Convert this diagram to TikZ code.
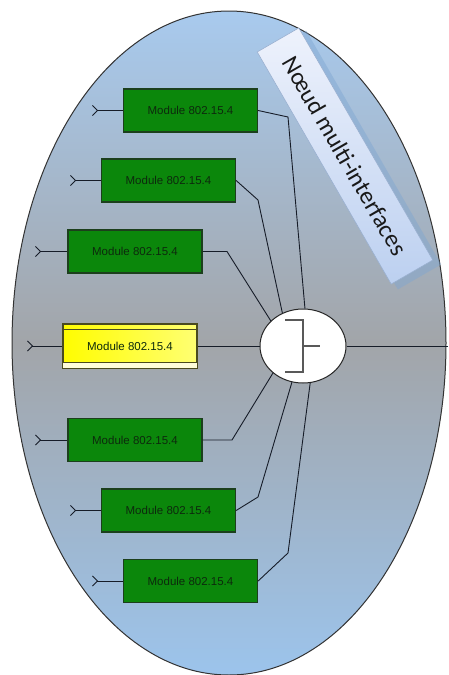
\documentclass[tikz,border=0pt]{standalone}
\usepackage{fontspec}
\setmainfont{Liberation Sans}
\newfontfamily\bannerfont{Carlito}
\usetikzlibrary{shapes.geometric,arrows.meta,calc}
\definecolor{ellTop}{HTML}{A8CAEE}
\definecolor{ellMid}{HTML}{A2A5A9}
\definecolor{ellBot}{HTML}{9CC4EC}
\definecolor{modGreen}{HTML}{0B870B}
\definecolor{modEdge}{HTML}{1C3F1C}
\definecolor{modText}{HTML}{0D2A0D}
\definecolor{wire}{HTML}{161C28}
\definecolor{banTop}{HTML}{EEF2FC}
\definecolor{banBot}{HTML}{BCD0F0}
\definecolor{banEdge}{HTML}{9AB0D0}
\definecolor{banShadow}{HTML}{7EA6D2}
\definecolor{yelEdge}{HTML}{4A4A1E}
\tikzset{
  modbox/.style={draw=modEdge, line width=1.3pt, fill=modGreen, minimum width=134pt,
    minimum height=43pt, inner sep=0pt, text=modText, font=\fontsize{11.5}{13}\selectfont},
  wireline/.style={draw=wire, line width=0.9pt},
  feed/.style={draw=wire, line width=0.9pt, {Straight Barb[reversed,length=5pt,width=10pt]}-},
  symb/.style={draw=black!65, line width=1.6pt}
}
\begin{document}
\begin{tikzpicture}[x=1pt,y=-1pt]
\useasboundingbox (0,0) rectangle (448,675);
\fill[white] (0,0) rectangle (448,675);
% enclosing ellipse
\path[draw=black!80, line width=1pt, top color=ellTop, bottom color=ellBot, middle color=ellMid]
  (229,343) ellipse [x radius=217pt, y radius=332pt];
% banner
\fill[banShadow, opacity=0.45, rotate around={-60:(352,160)}] (352,160) +(-135,-25) rectangle +(135,25);
\node[rotate=-60, draw=banEdge, line width=0.6pt, top color=banTop, bottom color=banBot,
  minimum width=268pt, minimum height=48pt, inner sep=0pt, font=\bannerfont\fontsize{24.5}{28}\selectfont,
  text=black!90] (banner) at (345,156) {Nœud multi-interfaces};
% modules
\node[modbox] (m1) at (190.5,110.5) {Module 802.15.4};
\node[modbox] (m2) at (168.5,180.5) {Module 802.15.4};
\node[modbox] (m3) at (135,251.5) {Module 802.15.4};
\node[modbox, draw=yelEdge, left color=yellow!98!orange, right color=yellow!55!white,
  minimum height=44pt] (m4) at (130,346) {Module 802.15.4};
\draw[yelEdge, line width=1.3pt] (m4.north west) ++(0,6) -- ++(134,0);
\fill[white!85!yellow] ($(m4.south west)+(0.7,-5.3)$) rectangle ($(m4.south east)+(-0.7,-0.7)$);
\draw[yelEdge, line width=1.3pt] (m4.south west) ++(0,-6) -- ++(134,0);
\node[modbox] (m5) at (135,440) {Module 802.15.4};
\node[modbox] (m6) at (168.5,510.5) {Module 802.15.4};
\node[modbox] (m7) at (190.5,581) {Module 802.15.4};
% switch circle
\node[ellipse, draw=black!85, line width=1pt, fill=white, minimum width=86pt, minimum height=74pt,
  inner sep=0pt] (sw) at (303,346) {};
\draw[symb] (285,320) -- (303,320) -- (303,372) -- (285,372);
\draw[symb] (303,346) -- (320,346);
% feed coordinates
\coordinate (t1) at (92,110.5);
\coordinate (t2) at (70,180.5);
\coordinate (t3) at (35,251.5);
\coordinate (t4) at (27,346);
\coordinate (t5) at (35,440);
\coordinate (t6) at (70,510.5);
\coordinate (t7) at (92,581);
\coordinate (out) at (448,346);
\foreach \i in {1,...,7} { \draw[feed] (t\i) -- (m\i.west); }
% wires to the switch
\draw[wireline] (m1.east) -- (288,117) -- (sw.87);
\draw[wireline] (m2.east) -- (258,200) -- (sw.122);
\draw[wireline] (m3.east) -- (227,251.5) -- (sw.142);
\draw[wireline] (m4.east) -- (sw.west);
\draw[wireline] (m5.east) -- (232,440) -- (sw.222);
\draw[wireline] (m6.east) -- (258,497) -- (sw.253);
\draw[wireline] (m7.east) -- (288,553) -- (sw.281);
\draw[wireline] (sw.east) -- (out);
\end{tikzpicture}
\end{document}
